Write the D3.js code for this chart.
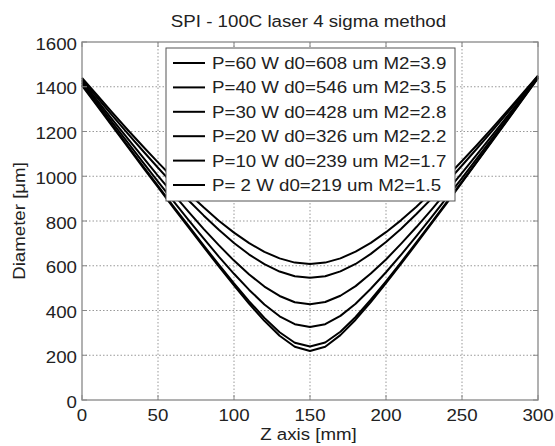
<!DOCTYPE html>
<html>
<head>
<meta charset="utf-8">
<script src="https://cdn.jsdelivr.net/npm/d3@7"></script>
<style>
  body { margin: 0; background: #fff; }
  text { font-family: "Liberation Sans", Arial, sans-serif; fill: #222; }
</style>
</head>
<body>
<div id="chart"></div>
<script>
// data (z in mm, diameter in um)
var zPos = [0,10,20,30,40,50,60,70,80,90,100,110,120,130,140,150,160,170,180,190,200,210,220,230,240,250,260,270,280,290,300];

var p60 = [1440,1362,1284,1208,1134,1062,992,924,861,801,748,701,662,633,614,608,614,633,663,702,750,804,864,929,997,1068,1141,1216,1293,1371,1450];
var p40 = [1432,1351,1271,1192,1114,1038,964,893,825,761,702,650,607,574,553,546,553,575,608,653,706,765,831,900,972,1048,1125,1204,1284,1366,1448];
var p30 = [1425,1339,1253,1169,1085,1002,921,842,765,692,623,561,507,465,437,428,438,466,509,565,628,699,773,851,932,1015,1099,1184,1270,1357,1445];
var p20 = [1418,1329,1240,1151,1063,976,890,805,722,641,564,492,427,374,339,326,339,376,430,497,571,650,732,817,904,992,1081,1170,1260,1351,1442];
var p10 = [1410,1319,1228,1137,1047,957,867,779,691,605,521,441,367,303,256,239,257,305,371,448,530,616,705,794,885,976,1068,1161,1254,1347,1440];
var p2  = [1405,1314,1223,1132,1041,951,861,772,684,597,512,430,354,287,238,219,238,290,359,438,522,609,699,789,880,972,1065,1158,1251,1344,1438];

var legendLabels = [
  "P=60 W d0=608 um M2=3.9",
  "P=40 W d0=546 um M2=3.5",
  "P=30 W d0=428 um M2=2.8",
  "P=20 W d0=326 um M2=2.2",
  "P=10 W d0=239 um M2=1.7",
  "P= 2 W d0=219 um M2=1.5"
];
var xTicks = [0,50,100,150,200,250,300];
var yTicks = [0,200,400,600,800,1000,1200,1400,1600];

var series = [p60, p40, p30, p20, p10, p2];

// set the dimensions and margins of the graph
var margin = {top: 42, right: 17, bottom: 46, left: 82},
    width = 555 - margin.left - margin.right,
    height = 446 - margin.top - margin.bottom;

var x = d3.scaleLinear().domain([0, 300]).range([0, width]);
var y = d3.scaleLinear().domain([0, 1600]).range([height, 0]);

var svg = d3.select("#chart").append("svg")
    .attr("width", 555)
    .attr("height", 446);

var g = svg.append("g")
    .attr("transform", "translate(" + margin.left + "," + margin.top + ")");

var sx = 1.1; // text in the picture is a bit wide

function addText(parent, tx, ty, str, anchor, size) {
  return parent.append("g")
      .attr("transform", "translate(" + tx + "," + ty + ") scale(" + sx + ",1)")
    .append("text")
      .attr("text-anchor", anchor)
      .style("font-size", size + "px")
      .text(str);
}

// dotted grid
g.append("g").selectAll("line.gx")
    .data(xTicks.slice(1, -1))
    .enter().append("line")
    .attr("x1", function(d) { return x(d); })
    .attr("x2", function(d) { return x(d); })
    .attr("y1", 0).attr("y2", height)
    .attr("stroke", "#999").attr("stroke-width", 1)
    .attr("stroke-dasharray", "1.5,2");

g.append("g").selectAll("line.gy")
    .data(yTicks.slice(1, -1))
    .enter().append("line")
    .attr("y1", function(d) { return y(d); })
    .attr("y2", function(d) { return y(d); })
    .attr("x1", 0).attr("x2", width)
    .attr("stroke", "#999").attr("stroke-width", 1)
    .attr("stroke-dasharray", "1.5,2");

// the curves
var line = d3.line()
    .x(function(d, i) { return x(zPos[i]); })
    .y(function(d) { return y(d); });

g.append("g").selectAll("path")
    .data(series)
    .enter().append("path")
    .attr("d", line)
    .attr("fill", "none")
    .attr("stroke", "#000")
    .attr("stroke-width", 2)
    .attr("stroke-linejoin", "round");

// axes box with inward ticks
var axisCol = "#888";
g.append("rect")
    .attr("width", width).attr("height", height)
    .attr("fill", "none").attr("stroke", axisCol).attr("stroke-width", 1.3);

var tl = 5;
xTicks.forEach(function(d) {
  g.append("line").attr("x1", x(d)).attr("x2", x(d)).attr("y1", height).attr("y2", height - tl)
      .attr("stroke", axisCol);
  g.append("line").attr("x1", x(d)).attr("x2", x(d)).attr("y1", 0).attr("y2", tl)
      .attr("stroke", axisCol);
  addText(g, x(d), height + 21, d, "middle", 17);
});
yTicks.forEach(function(d) {
  g.append("line").attr("x1", 0).attr("x2", tl).attr("y1", y(d)).attr("y2", y(d))
      .attr("stroke", axisCol);
  g.append("line").attr("x1", width).attr("x2", width - tl).attr("y1", y(d)).attr("y2", y(d))
      .attr("stroke", axisCol);
  addText(g, -5, y(d) + 7.5, d, "end", 17);
});

// title and axis labels
addText(svg, 308.5, 27, "SPI - 100C laser 4 sigma method", "middle", 17);
addText(svg, 308.5, 440, "Z axis [mm]", "middle", 17);

svg.append("g")
    .attr("transform", "translate(25," + (margin.top + height / 2) + ") rotate(-90) scale(" + sx + ",1)")
  .append("text")
    .attr("text-anchor", "middle")
    .style("font-size", "17px")
    .text("Diameter [\u03bcm]");

// legend
var legend = svg.append("g").attr("transform", "translate(166,48)");
legend.append("rect")
    .attr("width", 289).attr("height", 153)
    .attr("fill", "#fff").attr("stroke", "#555").attr("stroke-width", 1);

legendLabels.forEach(function(lab, i) {
  var ly = 15 + i * 24.4;
  legend.append("line")
      .attr("x1", 7).attr("x2", 39).attr("y1", ly).attr("y2", ly)
      .attr("stroke", "#000").attr("stroke-width", 2);
  addText(legend, 46, ly + 6, lab, "start", 17);
});
</script>
</body>
</html>
